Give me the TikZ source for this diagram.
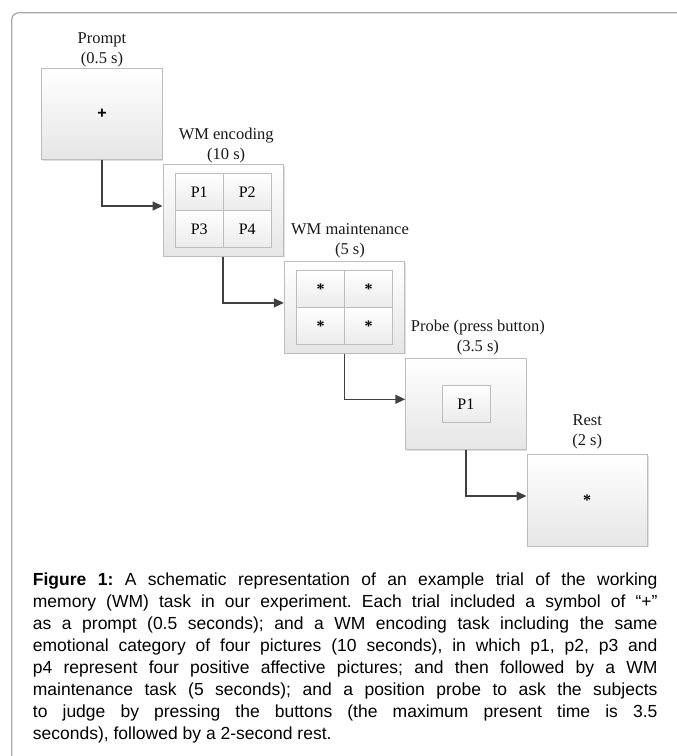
\documentclass[tikz,border=0pt]{standalone}
\usepackage{fontspec}
\setmainfont{Liberation Serif}
\newfontfamily\capfont{Liberation Sans}
\usetikzlibrary{positioning,arrows.meta,shadows}
\definecolor{framegray}{HTML}{A8A8A8}
\definecolor{edgegray}{HTML}{BDBDBD}
\definecolor{arrowgray}{HTML}{404040}

\begin{document}
\begin{tikzpicture}[x=1pt,y=-1pt,
        screen/.style={draw=edgegray, line width=0.8pt, top color=white, bottom color=black!10,
            minimum width=\boxw pt, minimum height=\boxh pt, inner sep=0pt,
            drop shadow={shadow xshift=1.2pt, shadow yshift=-1.2pt, opacity=0.3, fill=black!40}},
        cell/.style={draw=edgegray, line width=0.6pt, top color=white, bottom color=black!8,
            minimum width=\cellw pt, minimum height=\cellh pt, inner sep=0pt,
            font=\fontsize{16}{18}\selectfont},
        lbl/.style={align=center, inner sep=0pt, text=black!90, font=\fontsize{16.5}{20}\selectfont},
        flow/.style={draw=arrowgray, line width=1.5pt, -{Triangle[length=10pt,width=9pt]}}]
        % Define dimensions
        \def\boxw{120.5}
        \def\boxh{91.5}
        \def\cellw{48}
        \def\cellh{37}

        \useasboundingbox (0,0) rectangle (677,756);

        % Frame round the figure
        \begin{scope}
            \clip (0,0) rectangle (677,756);
            \draw[framegray, line width=1.2pt, rounded corners=7pt] (11.7,12.7) rectangle (700,780);
        \end{scope}

        % Screens of the trial
        \node[screen] (prompt) at (102,113.8) {\capfont\bfseries\fontsize{16}{18}\selectfont +};
        \node[screen] (encode) at (223.2,210.5) {};
        \node[screen] (maint) at (344.5,307.4) {};
        \node[screen] (probe) at (465.9,403.8) {};
        \node[screen] (rest) at (587.2,500.5) {\bfseries\fontsize{16}{18}\selectfont *};

        % Picture grid and blank grid
        \foreach \lab [count=\i from 0] in {P1,P2,P3,P4}
        {
            \pgfmathsetmacro\dx{(mod(\i,2)-0.5)*\cellw}
            \pgfmathsetmacro\dy{(0.5-div(\i,2))*\cellh}
            \node[cell] (enc\i) at ([xshift=\dx pt,yshift=\dy pt]encode.center) {\lab};
            \node[cell] (mnt\i) at ([xshift=\dx pt,yshift=\dy pt]maint.center) {\bfseries *};
        }
        \node[cell] (card) at (probe.center) {P1};

        % Labels above the screens
        \node[lbl, above=0pt of prompt] (promptlbl) {Prompt\\(0.5 s)};
        \node[lbl, above=1pt of encode, xshift=3pt] (encodelbl) {WM encoding\\(10 s)};
        \node[lbl, above=2.7pt of maint, xshift=5.5pt] (maintlbl) {WM maintenance\\(5 s)};
        \node[lbl, above=2.7pt of probe, xshift=12pt] (probelbl) {Probe (press button)\\(3.5 s)};
        \node[lbl, above=5.3pt of rest] (restlbl) {Rest\\(2 s)};

        % Arrows between screens
        \draw[flow] (prompt.south) |- ([yshift=4.5pt]encode.west);
        \draw[flow] (encode.south) |- ([yshift=4.5pt]maint.west);
        \draw[flow] (maint.south) |- ([yshift=4.5pt]probe.west);
        \draw[flow] (probe.south) |- ([yshift=4.5pt]rest.west);

        % Caption
        \node[anchor=north west, inner sep=0pt, text width=624.6pt, align=justify,
            font=\capfont\fontsize{17.5}{22}\selectfont] (caption) at (32.7,573)
        {\frenchspacing\hyphenpenalty=10000\emergencystretch=3em
        \textbf{Figure 1:} A schematic representation of an example trial of the working\linebreak
        memory (WM) task in our experiment. Each trial included a symbol of “+”\linebreak
        as a prompt (0.5 seconds); and a WM encoding task including the same\linebreak
        emotional category of four pictures (10 seconds), in which p1, p2, p3 and\linebreak
        p4 represent four positive affective pictures; and then followed by a WM\linebreak
        maintenance task (5 seconds); and a position probe to ask the subjects\linebreak
        to judge by pressing the buttons (the maximum present time is 3.5\linebreak
        seconds), followed by a 2-second rest.};
    \end{tikzpicture}
\end{document}
